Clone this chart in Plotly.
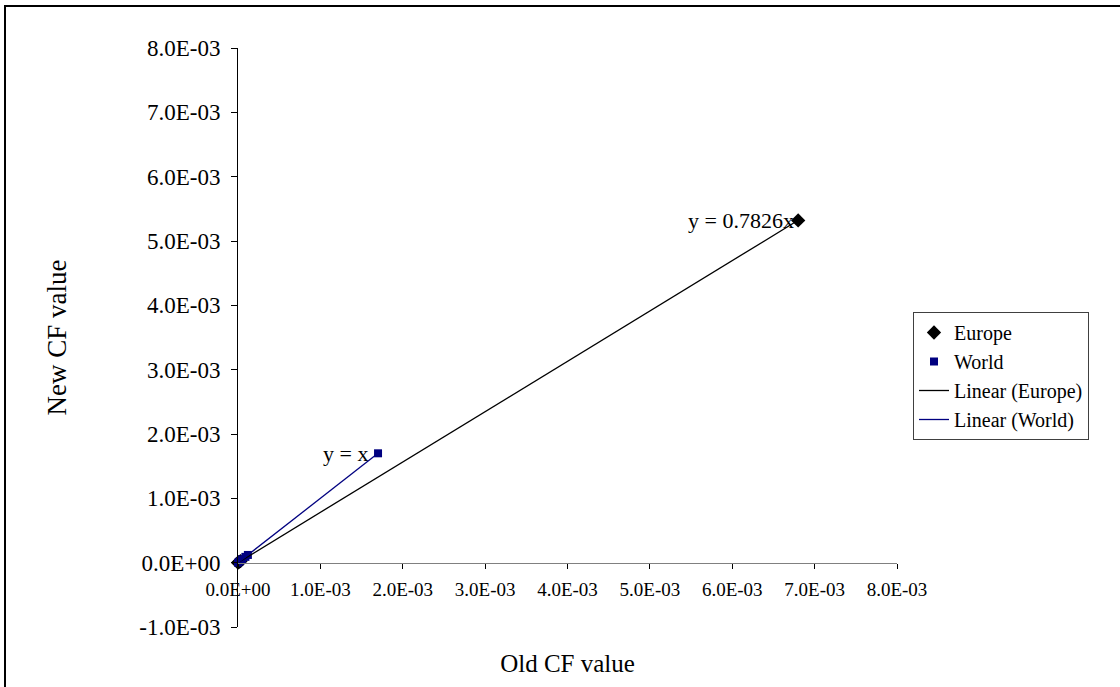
import plotly.graph_objects as go

# Characterisation factors: old vs new values
europe_old = [0.0, 0.00001, 0.00003, 0.0068]
europe_new = [0.0, 0.000008, 0.000023, 0.00532]
world_old = [0.0, 0.00002, 0.00005, 0.00009, 0.00012, 0.0017]
world_new = [0.0, 0.00002, 0.00005, 0.00009, 0.00012, 0.0017]

europe_slope = 0.7826
world_slope = 1.0

x_tickvals = [0.0, 0.001, 0.002, 0.003, 0.004, 0.005, 0.006, 0.007, 0.008]
x_ticktext = ["0.0E+00", "1.0E-03", "2.0E-03", "3.0E-03", "4.0E-03",
              "5.0E-03", "6.0E-03", "7.0E-03", "8.0E-03"]
y_tickvals = [-0.001, 0.0, 0.001, 0.002, 0.003, 0.004, 0.005, 0.006, 0.007, 0.008]
y_ticktext = ["-1.0E-03", "0.0E+00", "1.0E-03", "2.0E-03", "3.0E-03",
              "4.0E-03", "5.0E-03", "6.0E-03", "7.0E-03", "8.0E-03"]

X_RANGE = [0.0, 0.008]
Y_RANGE = [-0.001, 0.008]

FONT = "Liberation Serif, Times New Roman, serif"
W, H = 1120, 687
ML, MR, MT, MB = 238, 223, 48, 60

fig = go.Figure()

fig.add_trace(go.Scatter(
    x=europe_old, y=europe_new, mode="markers", name="Europe",
    marker=dict(symbol="diamond", size=11, color="black"),
    cliponaxis=False,
))
fig.add_trace(go.Scatter(
    x=world_old, y=world_new, mode="markers", name="World",
    marker=dict(symbol="square", size=8, color="#000080"),
    cliponaxis=False,
))

# Linear trendlines through the origin over the data range
e_x = [0.0, max(europe_old)]
fig.add_trace(go.Scatter(
    x=e_x, y=[europe_slope * v for v in e_x], mode="lines",
    name="Linear (Europe)", line=dict(color="black", width=1.3),
    cliponaxis=False,
))
w_x = [0.0, max(world_old)]
fig.add_trace(go.Scatter(
    x=w_x, y=[world_slope * v for v in w_x], mode="lines",
    name="Linear (World)", line=dict(color="#000080", width=1.3),
    cliponaxis=False,
))

fig.add_annotation(x=max(europe_old), y=europe_slope * max(europe_old),
                   text="y = 0.7826x", showarrow=False, xanchor="right",
                   xshift=-2, font=dict(family=FONT, size=22, color="black"))
fig.add_annotation(x=max(world_old), y=world_slope * max(world_old),
                   text="y = x", showarrow=False, xanchor="right",
                   xshift=-8, font=dict(family=FONT, size=22, color="black"))

# Outer chart frame
pw = W - ML - MR
ph = H - MT - MB
fig.add_shape(type="rect", xref="paper", yref="paper",
              x0=(5 - ML) / pw, x1=(W + 5 - ML) / pw,
              y0=(H - MB - (H + 5)) / ph, y1=(H - MB - 6) / ph,
              line=dict(color="black", width=2), layer="below")

fig.update_layout(
    width=W, height=H,
    margin=dict(l=ML, r=MR, t=MT, b=MB),
    paper_bgcolor="white", plot_bgcolor="white",
    font=dict(family=FONT, color="black"),
    showlegend=True,
    legend=dict(
        x=(913 - ML) / pw, y=(H - MB - 312) / ph,
        xanchor="left", yanchor="top",
        bordercolor="#404040", borderwidth=1, bgcolor="white",
        font=dict(family=FONT, size=20, color="black"),
        tracegroupgap=0, itemwidth=30,
    ),
    xaxis=dict(
        range=X_RANGE, tickvals=x_tickvals, ticktext=x_ticktext,
        showgrid=False, zeroline=False,
        showline=True, linecolor="#808080", linewidth=1,
        ticks="outside", ticklen=5, tickcolor="black",
        tickfont=dict(family=FONT, size=19), ticklabelstandoff=5,
        anchor="free", position=(0 - Y_RANGE[0]) / (Y_RANGE[1] - Y_RANGE[0]),
        title=dict(text="Old CF value", font=dict(family=FONT, size=25),
                   standoff=55),
    ),
    yaxis=dict(
        range=Y_RANGE, tickvals=y_tickvals, ticktext=y_ticktext,
        showgrid=False, zeroline=False,
        showline=True, linecolor="black", linewidth=1,
        ticks="outside", ticklen=6, tickcolor="black",
        tickfont=dict(family=FONT, size=23), ticklabelstandoff=6,
        title=dict(text="New CF value", font=dict(family=FONT, size=27),
                   standoff=64),
    ),
)

fig.write_html("out.html")
